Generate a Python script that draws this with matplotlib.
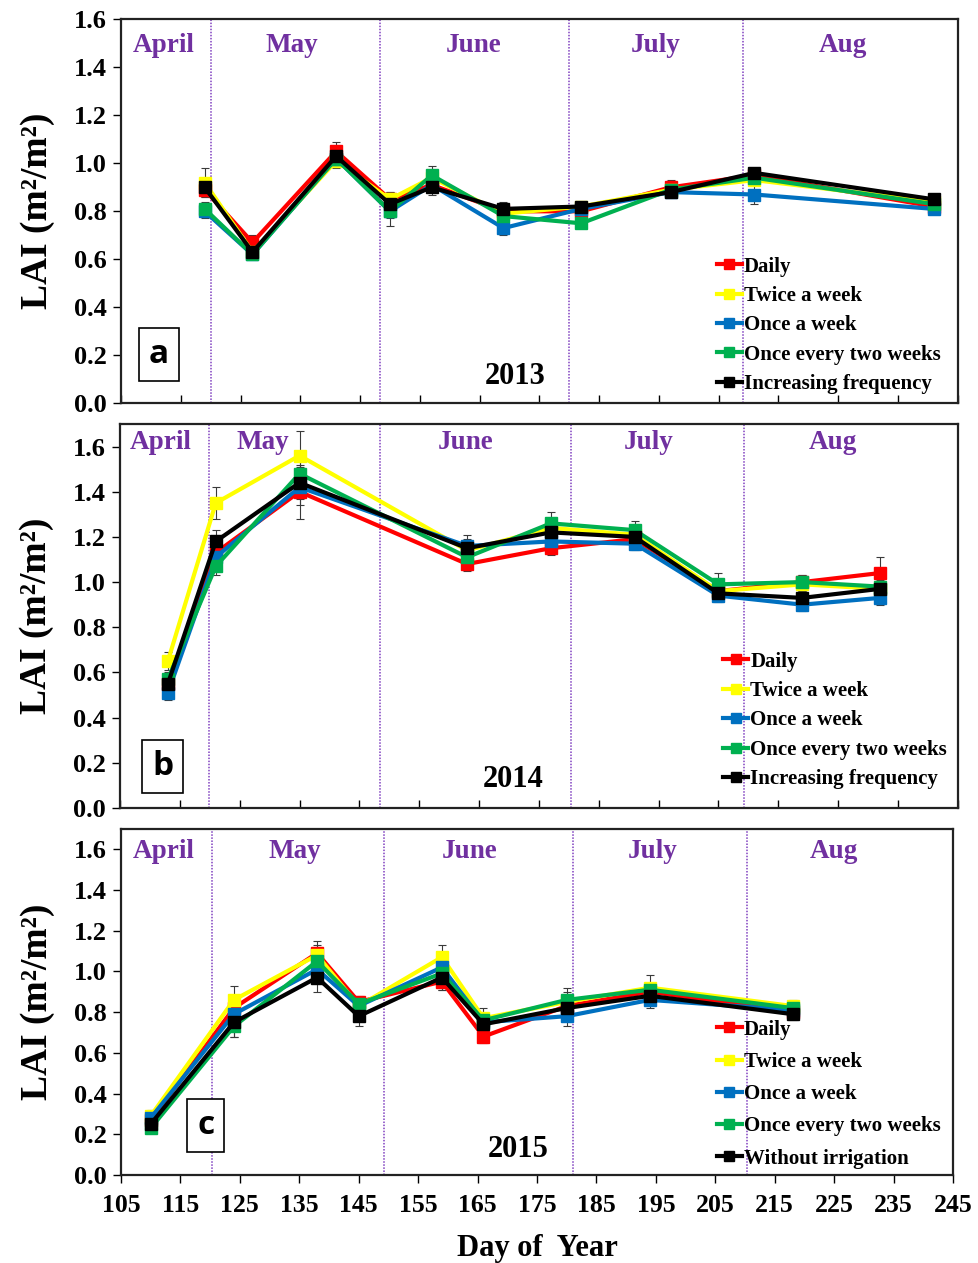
import matplotlib
matplotlib.use("Agg")
import matplotlib.pyplot as plt
from matplotlib.ticker import FormatStrFormatter

plt.rcParams['font.family'] = ['Liberation Serif', 'DejaVu Serif']
plt.rcParams['font.weight'] = 'bold'

# ---- data: LAI by irrigation treatment, per season ----
series_colors = ["#FF0000", "#FFFF00", "#0070C0", "#00B050", "#000000"]

doy_2013 = [119, 127, 141, 150, 157, 169, 182, 197, 211, 241]
lai_2013 = {
    "Daily":                [0.89, 0.67, 1.05, 0.85, 0.91, 0.80, 0.80, 0.90, 0.95, 0.82],
    "Twice a week":         [0.92, 0.63, 1.01, 0.85, 0.94, 0.79, 0.82, 0.89, 0.93, 0.84],
    "Once a week":          [0.80, 0.62, 1.02, 0.80, 0.91, 0.73, 0.81, 0.88, 0.87, 0.81],
    "Once every two weeks": [0.81, 0.62, 1.02, 0.80, 0.95, 0.78, 0.75, 0.89, 0.94, 0.83],
    "Increasing frequency": [0.90, 0.63, 1.03, 0.83, 0.90, 0.81, 0.82, 0.88, 0.96, 0.85],
}
err_2013 = {
    "Daily":                [0.03, 0.03, 0.04, 0.03, 0.03, 0.03, 0.03, 0.03, 0.03, 0.02],
    "Twice a week":         [0.06, 0.03, 0.03, 0.03, 0.03, 0.03, 0.02, 0.02, 0.02, 0.02],
    "Once a week":          [0.03, 0.02, 0.03, 0.06, 0.03, 0.03, 0.03, 0.02, 0.04, 0.02],
    "Once every two weeks": [0.03, 0.02, 0.03, 0.03, 0.04, 0.03, 0.02, 0.02, 0.03, 0.02],
    "Increasing frequency": [0.03, 0.02, 0.03, 0.04, 0.03, 0.03, 0.02, 0.02, 0.02, 0.02],
}

doy_2014 = [113, 121, 135, 163, 177, 191, 205, 219, 232]
lai_2014 = {
    "Daily":                [0.55, 1.13, 1.40, 1.08, 1.15, 1.19, 0.96, 1.00, 1.04],
    "Twice a week":         [0.65, 1.35, 1.56, 1.14, 1.24, 1.21, 0.96, 0.99, 0.97],
    "Once a week":          [0.51, 1.11, 1.42, 1.16, 1.18, 1.17, 0.94, 0.90, 0.93],
    "Once every two weeks": [0.57, 1.07, 1.48, 1.11, 1.26, 1.23, 0.99, 1.00, 0.98],
    "Increasing frequency": [0.55, 1.18, 1.44, 1.15, 1.22, 1.20, 0.95, 0.93, 0.97],
}
err_2014 = {
    "Daily":                [0.03, 0.04, 0.12, 0.03, 0.03, 0.03, 0.03, 0.03, 0.07],
    "Twice a week":         [0.04, 0.07, 0.11, 0.04, 0.04, 0.03, 0.03, 0.03, 0.03],
    "Once a week":          [0.03, 0.04, 0.08, 0.05, 0.03, 0.03, 0.03, 0.03, 0.03],
    "Once every two weeks": [0.03, 0.04, 0.06, 0.04, 0.05, 0.04, 0.05, 0.03, 0.03],
    "Increasing frequency": [0.03, 0.05, 0.07, 0.04, 0.03, 0.03, 0.03, 0.03, 0.03],
}

doy_2015 = [110, 124, 138, 145, 159, 166, 180, 194, 218]
lai_2015 = {
    "Daily":                [0.27, 0.82, 1.09, 0.85, 0.95, 0.68, 0.83, 0.90, 0.80],
    "Twice a week":         [0.29, 0.86, 1.08, 0.83, 1.07, 0.77, 0.85, 0.92, 0.83],
    "Once a week":          [0.28, 0.79, 1.01, 0.83, 1.02, 0.75, 0.78, 0.86, 0.81],
    "Once every two weeks": [0.23, 0.73, 1.05, 0.84, 0.99, 0.76, 0.86, 0.91, 0.82],
    "Without irrigation":   [0.25, 0.75, 0.97, 0.78, 0.97, 0.74, 0.82, 0.88, 0.79],
}
err_2015 = {
    "Daily":                [0.03, 0.04, 0.06, 0.03, 0.04, 0.03, 0.03, 0.03, 0.03],
    "Twice a week":         [0.03, 0.07, 0.05, 0.03, 0.06, 0.05, 0.05, 0.06, 0.03],
    "Once a week":          [0.02, 0.04, 0.04, 0.03, 0.04, 0.03, 0.05, 0.04, 0.03],
    "Once every two weeks": [0.02, 0.05, 0.05, 0.03, 0.04, 0.03, 0.06, 0.03, 0.03],
    "Without irrigation":   [0.03, 0.07, 0.07, 0.05, 0.06, 0.03, 0.05, 0.04, 0.03],
}

months = ["April", "May", "June", "July", "Aug"]
x_ticks = list(range(105, 246, 10))
y_ticks = [0.0, 0.2, 0.4, 0.6, 0.8, 1.0, 1.2, 1.4, 1.6]

PURPLE = "#7030A0"

fig = plt.figure(figsize=(9.79, 12.63), dpi=100)

panels = [
    dict(doy=doy_2013, lai=lai_2013, err=err_2013, year="2013", letter="a",
         rect=[0.1236, 0.6807, 0.8546, 0.3040], ymax=1.6,
         bounds=[120, 148.3, 180, 209],
         month_x=[112.2, 133.6, 164.0, 194.4, 225.8], month_y=1.49,
         letter_pos=(0.045, 0.126), year_pos=(0.471, 0.071),
         leg_anchor=(0.712, 0.382), leg_space=0.45,
         xtick_dir="in", xlabels=False),
    dict(doy=doy_2014, lai=lai_2014, err=err_2014, year="2014", letter="b",
         rect=[0.1226, 0.3603, 0.8557, 0.3040], ymax=1.7,
         bounds=[119.8, 148.5, 180.3, 209.2],
         month_x=[111.8, 128.8, 162.7, 193.3, 224.2], month_y=1.62,
         letter_pos=(0.051, 0.109), year_pos=(0.469, 0.073),
         leg_anchor=(0.720, 0.407), leg_space=0.45,
         xtick_dir="in", xlabels=False),
    dict(doy=doy_2015, lai=lai_2015, err=err_2015, year="2015", letter="c",
         rect=[0.1236, 0.0697, 0.8498, 0.2740], ymax=1.7,
         bounds=[120.3, 149.3, 181.1, 210.4],
         month_x=[112.1, 134.3, 163.7, 194.5, 225.0], month_y=1.59,
         letter_pos=(0.102, 0.142), year_pos=(0.477, 0.075),
         leg_anchor=(0.716, 0.449), leg_space=0.59,
         xtick_dir="out", xlabels=True),
]

for p in panels:
    ax = fig.add_axes(p["rect"])
    handles = []
    for (name, vals), color in zip(p["lai"].items(), series_colors):
        cont = ax.errorbar(p["doy"], vals, yerr=p["err"][name], color=color,
                           ecolor="#3a3a3a", elinewidth=0.8, capsize=3,
                           capthick=0.8, lw=3.0, marker="s", markersize=8,
                           label=name, zorder=3)
        handles.append(cont.lines[0])
    for b in p["bounds"]:
        ax.axvline(b, color="#8040C0", ls=(0, (1, 1)), lw=1.1, zorder=2)
    for m, mx in zip(months, p["month_x"]):
        ax.text(mx, p["month_y"], m, color=PURPLE, fontsize=19.5,
                fontweight="bold", ha="center", va="center")

    ax.set_xlim(105, 245)
    ax.set_ylim(0, p["ymax"])
    ax.set_xticks(x_ticks)
    ax.set_yticks(y_ticks)
    ax.yaxis.set_major_formatter(FormatStrFormatter("%.1f"))
    ax.tick_params(axis="y", direction="out", length=6, width=1,
                   labelsize=19, pad=4)
    ax.tick_params(axis="x", direction=p["xtick_dir"], length=6, width=1,
                   labelsize=18.5, labelbottom=p["xlabels"], pad=8)
    for lbl in ax.get_xticklabels() + ax.get_yticklabels():
        lbl.set_fontweight("bold")
    for sp in ax.spines.values():
        sp.set_linewidth(1.6)
        sp.set_color("#222222")

    ax.set_ylabel("LAI (m²/m²)", fontsize=27, fontweight="bold", labelpad=14)

    ax.text(p["letter_pos"][0], p["letter_pos"][1], p["letter"],
            transform=ax.transAxes, ha="center", va="center",
            fontsize=24, fontweight="bold", family=["Open Sans", "DejaVu Sans"],
            bbox=dict(boxstyle="square,pad=0.3", fc="white", ec="black", lw=1.2))
    ax.text(p["year_pos"][0], p["year_pos"][1], p["year"],
            transform=ax.transAxes, ha="center", va="center",
            fontsize=22, fontweight="bold")

    leg = ax.legend(handles=handles, labels=list(p["lai"].keys()),
                    loc="upper left", bbox_to_anchor=p["leg_anchor"],
                    frameon=False, fontsize=15, handlelength=1.2,
                    handletextpad=0.1, labelspacing=p["leg_space"], borderpad=0,
                    borderaxespad=0, markerscale=0.85)
    for t in leg.get_texts():
        t.set_fontweight("bold")

    if p["xlabels"]:
        ax.set_xlabel("Day of  Year", fontsize=22, fontweight="bold", labelpad=12)

fig.savefig("out.png", dpi=100, facecolor="white")
